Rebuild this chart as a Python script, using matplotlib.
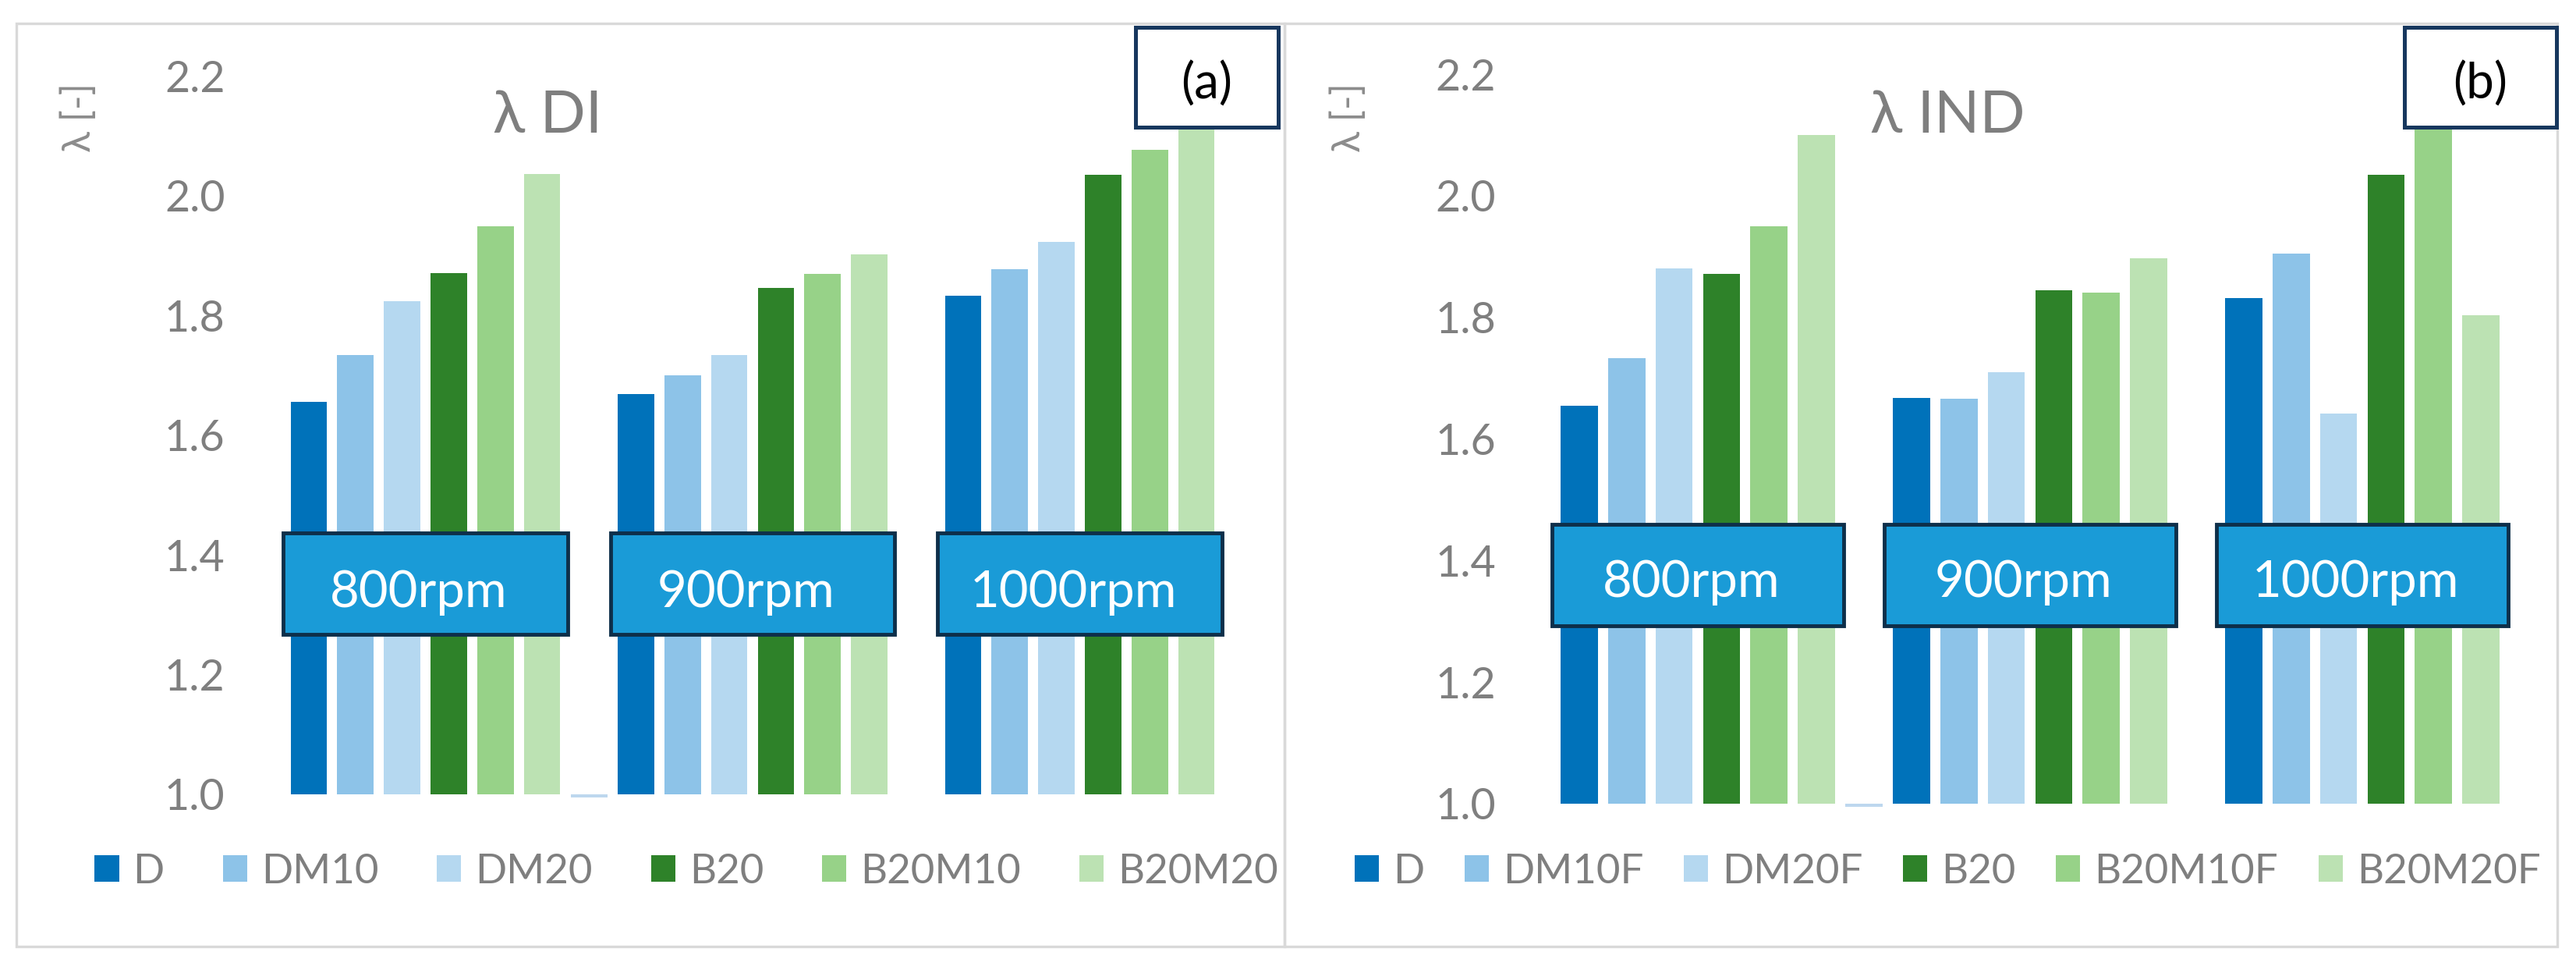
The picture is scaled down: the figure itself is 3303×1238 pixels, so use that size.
import matplotlib
matplotlib.use("Agg")
import matplotlib.pyplot as plt
from matplotlib.patches import Rectangle, Patch
import numpy as np

plt.rcParams['font.family'] = ['Lato', 'DejaVu Sans']

# ---------------- data ----------------
categories = ["800rpm", "900rpm", "1000rpm"]

series_a = ["D", "DM10", "DM20", "B20", "B20M10", "B20M20"]
values_a = {
    "D":      [1.655, 1.668, 1.832],
    "DM10":   [1.734, 1.700, 1.877],
    "DM20":   [1.824, 1.734, 1.923],
    "B20":    [1.871, 1.845, 2.035],
    "B20M10": [1.948, 1.869, 2.076],
    "B20M20": [2.036, 1.902, 2.140],
}

series_b = ["D", "DM10F", "DM20F", "B20", "B20M10F", "B20M20F"]
values_b = {
    "D":       [1.655, 1.668, 1.832],
    "DM10F":   [1.733, 1.666, 1.905],
    "DM20F":   [1.880, 1.710, 1.642],
    "B20":     [1.871, 1.845, 2.035],
    "B20M10F": [1.950, 1.841, 2.140],
    "B20M20F": [2.100, 1.897, 1.804],
}

# small stray bar sitting between the first two groups at the base
stray_value = 0.005

yticks = [1.0, 1.2, 1.4, 1.6, 1.8, 2.0, 2.2]
titles = ["λ DI", "λ IND"]
panel_tags = ["(a)", "(b)"]
ylabel = "λ [-]"

colors = ["#0072BA", "#8DC3E8", "#B5D8F0", "#2E8229", "#97D288", "#BCE2B3"]
box_face = "#1A9BD7"
box_edge = "#0E2F4A"
tag_edge = "#17375E"
gray_txt = "#7F7F7F"
border_col = "#D9D9D9"

W, H = 3303, 1238
fig = plt.figure(figsize=(W / 100, H / 100), dpi=100)


def fx(px):
    return px / W


def fy(py):
    return 1 - py / H


# panel borders
for (x0, x1) in [(21, 1647), (1647, 3279)]:
    fig.add_artist(Rectangle((fx(x0), fy(1213)), fx(x1) - fx(x0), fy(30) - fy(1213),
                             transform=fig.transFigure, fill=False,
                             edgecolor=border_col, linewidth=2.4, zorder=0))

# axes geometry (pixel positions of plot areas)
geoms = [
    dict(left=335.75, right=1594.25, top=97, bottom=1018, boxc=1.352, boxh=0.170,
         boxw=0.87, txt_off=-0.039, tag=(1456, 1639, 35, 163), title_x=702,
         ylab_x=102, tick_pad=34, legend_x=880, colsp=1.42),
    dict(left=1964, right=3242, top=95, bottom=1030, boxc=1.376, boxh=0.167,
         boxw=0.88, txt_off=-0.036, tag=(3083, 3278, 35, 163), title_x=2497,
         ylab_x=1730, tick_pad=33, legend_x=2497, colsp=0.98),
]

panels = [(series_a, values_a), (series_b, values_b)]

for k, ((names, vals), g) in enumerate(zip(panels, geoms)):
    ax = fig.add_axes([fx(g['left']), fy(g['bottom']),
                       fx(g['right']) - fx(g['left']), fy(g['top']) - fy(g['bottom'])])
    x = np.arange(len(categories))
    pitch = 0.1426
    width = 0.111
    for i, name in enumerate(names):
        v = np.array(vals[name])
        ax.bar(x + (i - 2.5) * pitch, v - 1.0, bottom=1.0, width=width,
               color=colors[i], edgecolor='none', zorder=2)
    # stray small bar between first two groups
    ax.bar([0.5], [stray_value], bottom=1.0 - stray_value, width=width,
           color="#BDD7EE", edgecolor='none', clip_on=False, zorder=2)

    ax.set_xlim(-0.5, len(categories) - 0.5)
    ax.set_ylim(1.0, 2.2)
    ax.set_yticks(yticks)
    ax.set_yticklabels([f"{t:.1f}" for t in yticks])
    ax.tick_params(axis='y', length=0, pad=g['tick_pad'], labelsize=40, labelcolor=gray_txt)
    ax.set_xticks([])
    for s in ax.spines.values():
        s.set_visible(False)
    ax.patch.set_alpha(0)

    # rpm boxes
    for ci, cat in enumerate(categories):
        ax.add_patch(Rectangle((ci - g['boxw'] / 2, g['boxc'] - g['boxh'] / 2), g['boxw'], g['boxh'],
                               facecolor=box_face, edgecolor=box_edge, linewidth=3.5,
                               zorder=5, clip_on=False))
        ax.text(ci - 0.02, g['boxc'] + g['txt_off'], cat, ha='center', va='baseline',
                color='white', fontsize=47, zorder=6)

    # panel tag box
    x0, x1, y0, y1 = g['tag']
    fig.add_artist(Rectangle((fx(x0), fy(y1)), fx(x1) - fx(x0), fy(y0) - fy(y1),
                             transform=fig.transFigure, facecolor='white',
                             edgecolor=tag_edge, linewidth=3.6, zorder=5))
    fig.text(fx((x0 + x1) / 2), fy(108), panel_tags[k], ha='center', va='center',
             fontsize=46, color='black', zorder=6)

    # title
    fig.text(fx(g['title_x']), fy(170), titles[k], ha='center', va='baseline',
             fontsize=55, color=gray_txt)
    # y label
    fig.text(fx(g['ylab_x']), fy(151), ylabel, ha='center', va='center', rotation=90,
             fontsize=36, color="#8C8C8C")

    # legend
    handles = [Patch(facecolor=colors[i], edgecolor='none') for i in range(len(names))]
    fig.legend(handles, names, loc='center', bbox_to_anchor=(fx(g['legend_x']), fy(1117)),
               ncol=6, frameon=False, fontsize=38, labelcolor=gray_txt,
               handlelength=0.59, handleheight=0.6, handletextpad=0.34,
               columnspacing=g['colsp'], borderpad=0, borderaxespad=0)

fig.savefig("out.png", dpi=100)
